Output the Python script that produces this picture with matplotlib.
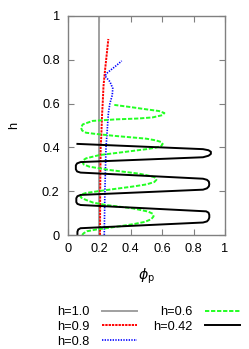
import matplotlib
matplotlib.use("Agg")
import matplotlib.pyplot as plt

plt.rcParams['font.family'] = ['Liberation Sans', 'DejaVu Sans']

# h = 1.0
h10_x = [0.2, 0.2]
h10_y = [0.0, 1.0]
# h = 0.9
h09_x = [0.204, 0.205, 0.208, 0.212, 0.217, 0.221, 0.226, 0.236, 0.257]
h09_y = [0.0, 0.2, 0.4, 0.45, 0.55, 0.6, 0.68, 0.753, 0.895]
# h = 0.8
h08_x = [0.231, 0.235, 0.242, 0.25, 0.257, 0.267, 0.282, 0.285, 0.267, 0.236, 0.246, 0.275, 0.31, 0.342]
h08_y = [0.0, 0.2, 0.4, 0.479, 0.556, 0.601, 0.639, 0.67, 0.7, 0.726, 0.738, 0.755, 0.775, 0.795]
# h = 0.6
h06_x = [0.09, 0.1, 0.12, 0.18, 0.242, 0.33, 0.42, 0.49, 0.53, 0.545, 0.54, 0.51, 0.41, 0.242, 0.16,
         0.115, 0.085, 0.078, 0.09, 0.115, 0.242, 0.41, 0.5, 0.55, 0.563, 0.55, 0.52, 0.454, 0.263, 0.136,
         0.1, 0.092, 0.1, 0.115, 0.2, 0.369, 0.5, 0.56, 0.595, 0.603, 0.592, 0.56, 0.497, 0.306, 0.17,
         0.115, 0.09, 0.083, 0.094, 0.157, 0.306, 0.45, 0.539, 0.6, 0.614, 0.58, 0.497, 0.4, 0.295]
h06_y = [0.0, 0.008, 0.017, 0.025, 0.031, 0.04, 0.05, 0.06, 0.072, 0.085, 0.097, 0.107, 0.122, 0.137, 0.148,
         0.16, 0.17, 0.178, 0.186, 0.192, 0.205, 0.221, 0.231, 0.242, 0.252, 0.264, 0.27, 0.28, 0.297, 0.312,
         0.322, 0.335, 0.343, 0.35, 0.365, 0.38, 0.392, 0.399, 0.407, 0.416, 0.425, 0.432, 0.44, 0.452, 0.462,
         0.467, 0.477, 0.49, 0.505, 0.521, 0.528, 0.532, 0.537, 0.547, 0.557, 0.566, 0.574, 0.584, 0.594]
# h = 0.42
h042_x = [0.06, 0.06, 0.065, 0.08, 0.86, 0.885, 0.895, 0.9, 0.9, 0.895, 0.88, 0.08, 0.06, 0.053, 0.053,
          0.06, 0.08, 0.86, 0.885, 0.897, 0.9, 0.897, 0.885, 0.86, 0.08, 0.058, 0.05, 0.05, 0.058, 0.08,
          0.86, 0.895, 0.91, 0.91, 0.895, 0.86, 0.06]
h042_y = [0.0, 0.015, 0.025, 0.031, 0.057, 0.062, 0.07, 0.08, 0.092, 0.102, 0.108, 0.137, 0.142, 0.15, 0.168,
          0.177, 0.183, 0.207, 0.213, 0.222, 0.232, 0.244, 0.252, 0.257, 0.285, 0.29, 0.3, 0.318, 0.327, 0.333,
          0.355, 0.362, 0.37, 0.38, 0.387, 0.392, 0.416]

labels = ["h=1.0", "h=0.9", "h=0.8", "h=0.6", "h=0.42"]
ticks = [0, 0.2, 0.4, 0.6, 0.8, 1]
tick_labels = ["0", "0.2", "0.4", "0.6", "0.8", "1"]

W, H = 249, 349
fig = plt.figure(figsize=(W / 100, H / 100), dpi=100)
ax = fig.add_axes([68 / W, 1 - 235 / H, (225 - 68) / W, (235 - 16) / H])

fs = 9.2
l1, = ax.plot(h10_x, h10_y, color='#a0a0a0', lw=1.4, label=labels[0])
l2, = ax.plot(h09_x, h09_y, color='#ff0000', lw=1.4, dashes=(1.2, 0.5), label=labels[1])
l3, = ax.plot(h08_x, h08_y, color='#0000ff', lw=1.2, dashes=(0.8, 0.8), label=labels[2])
l4, = ax.plot(h06_x, h06_y, color='#22ff22', lw=1.4, dashes=(2.2, 0.9), label=labels[3])
l5, = ax.plot(h042_x, h042_y, color='#000000', lw=1.4, label=labels[4])

ax.set_xlim(0, 1)
ax.set_ylim(0, 1)
ax.set_xticks(ticks)
ax.set_xticklabels(tick_labels)
ax.set_yticks(ticks)
ax.set_yticklabels(tick_labels)
ax.tick_params(direction='in', length=4, width=0.8, color='#808080', labelsize=fs,
               top=True, right=True, pad=6)
for s in ax.spines.values():
    s.set_color('#808080')
    s.set_linewidth(1.0)

ax.set_xlabel(r'$\phi_{\rm p}$', fontsize=fs + 1, labelpad=8)
ax.set_ylabel('h', fontsize=fs, labelpad=16)

handles = [l1, l2, l3, l4, l5]
leg = fig.legend(handles, labels, loc='upper left', bbox_to_anchor=(57 / W, 1 - 306 / H),
                 ncol=2, frameon=False, markerfirst=False, fontsize=fs,
                 handlelength=2.75, handletextpad=1.0, labelspacing=0.22,
                 columnspacing=1.2, borderpad=0, borderaxespad=0)

fig.savefig('out.png', dpi=100)
